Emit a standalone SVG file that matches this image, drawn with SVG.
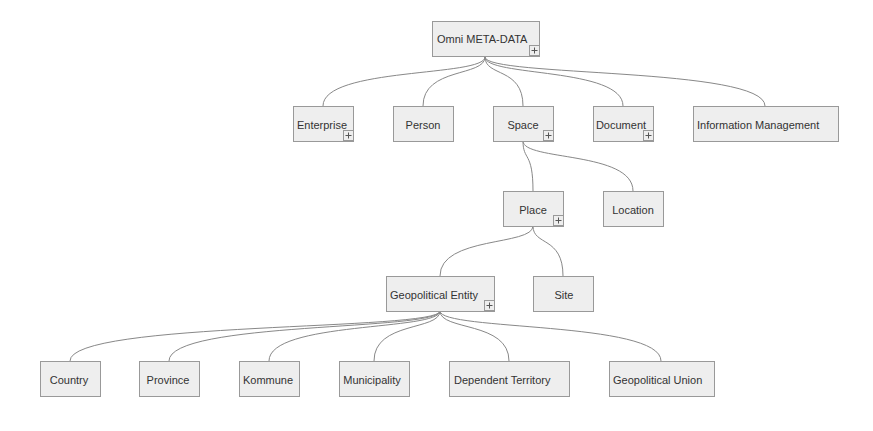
<svg xmlns="http://www.w3.org/2000/svg" width="873" height="431" viewBox="0 0 873 431">
<style>
.n rect.b{fill:#eeeeee;stroke:#999999;stroke-width:1}
.n text{font-family:"Liberation Sans",Arial,sans-serif;font-size:11px;fill:#333333;text-anchor:middle}
.n text.l{text-anchor:start}
.p rect{fill:#eeeeee;stroke:#999999;stroke-width:1}
.p path{stroke:#555;stroke-width:1;fill:none}
#edges path{fill:none;stroke:#888888;stroke-width:1}
</style>
<defs>
<g id="plus" class="p"><rect x="0" y="0" width="10" height="10"/><path d="M2,5H8M5,2V8"/></g>
</defs>
<rect width="873" height="431" fill="#ffffff"/>
<g id="edges">
<path d="M485,57 C485,77 323,67 323,106"/>
<path d="M485,57 C485,77 423,67 423,106"/>
<path d="M485,57 C485,77 523,67 523,106"/>
<path d="M485,57 C485,77 623,67 623,106"/>
<path d="M485,57 C485,77 765,67 765,106"/>
<path d="M523,141 C523,161 533,151 533,191"/>
<path d="M523,141 C523,161 633,151 633,191"/>
<path d="M533,226 C533,246 440,236 440,276"/>
<path d="M533,226 C533,246 563,236 563,276"/>
<path d="M440,311 C440,331 70,321 70,361"/>
<path d="M440,311 C440,331 169,321 169,361"/>
<path d="M440,311 C440,331 269,321 269,361"/>
<path d="M440,311 C440,331 374,321 374,361"/>
<path d="M440,311 C440,331 509,321 509,361"/>
<path d="M440,311 C440,331 661,321 661,361"/>
</g>
<g id="omni" class="n"><rect class="b" x="432.5" y="21.5" width="107" height="35"/><text class="l" x="437" y="43">Omni META-DATA</text><use href="#plus" x="529.5" y="45.5"/></g>
<g id="enterprise" class="n"><rect class="b" x="293.5" y="106.5" width="60" height="35"/><text x="322" y="129">Enterprise</text><use href="#plus" x="343.5" y="130.5"/></g>
<g id="person" class="n"><rect class="b" x="393.5" y="106.5" width="60" height="35"/><text x="423" y="129">Person</text></g>
<g id="space" class="n"><rect class="b" x="493.5" y="106.5" width="60" height="35"/><text x="523" y="129">Space</text><use href="#plus" x="543.5" y="130.5"/></g>
<g id="document" class="n"><rect class="b" x="593.5" y="106.5" width="60" height="35"/><text x="621" y="129">Document</text><use href="#plus" x="643.5" y="130.5"/></g>
<g id="infomgmt" class="n"><rect class="b" x="693.5" y="106.5" width="145" height="35"/><text class="l" x="697" y="129">Information Management</text></g>
<g id="place" class="n"><rect class="b" x="503.5" y="191.5" width="60" height="35"/><text x="533" y="214">Place</text><use href="#plus" x="553.5" y="215.5"/></g>
<g id="location" class="n"><rect class="b" x="603.5" y="191.5" width="60" height="35"/><text x="633" y="214">Location</text></g>
<g id="geoentity" class="n"><rect class="b" x="386.5" y="276.5" width="108" height="35"/><text class="l" x="390" y="299">Geopolitical Entity</text><use href="#plus" x="484.5" y="300.5"/></g>
<g id="site" class="n"><rect class="b" x="533.5" y="276.5" width="60" height="35"/><text x="564" y="299">Site</text></g>
<g id="country" class="n"><rect class="b" x="40.5" y="361.5" width="60" height="35"/><text x="69" y="384">Country</text></g>
<g id="province" class="n"><rect class="b" x="139.5" y="361.5" width="60" height="35"/><text x="168" y="384">Province</text></g>
<g id="kommune" class="n"><rect class="b" x="239.5" y="361.5" width="60" height="35"/><text x="268" y="384">Kommune</text></g>
<g id="municipality" class="n"><rect class="b" x="339.5" y="361.5" width="70" height="35"/><text x="372" y="384">Municipality</text></g>
<g id="dependent" class="n"><rect class="b" x="449.5" y="361.5" width="120" height="35"/><text class="l" x="454" y="384">Dependent Territory</text></g>
<g id="geounion" class="n"><rect class="b" x="609.5" y="361.5" width="105" height="35"/><text class="l" x="613" y="384">Geopolitical Union</text></g>
</svg>
